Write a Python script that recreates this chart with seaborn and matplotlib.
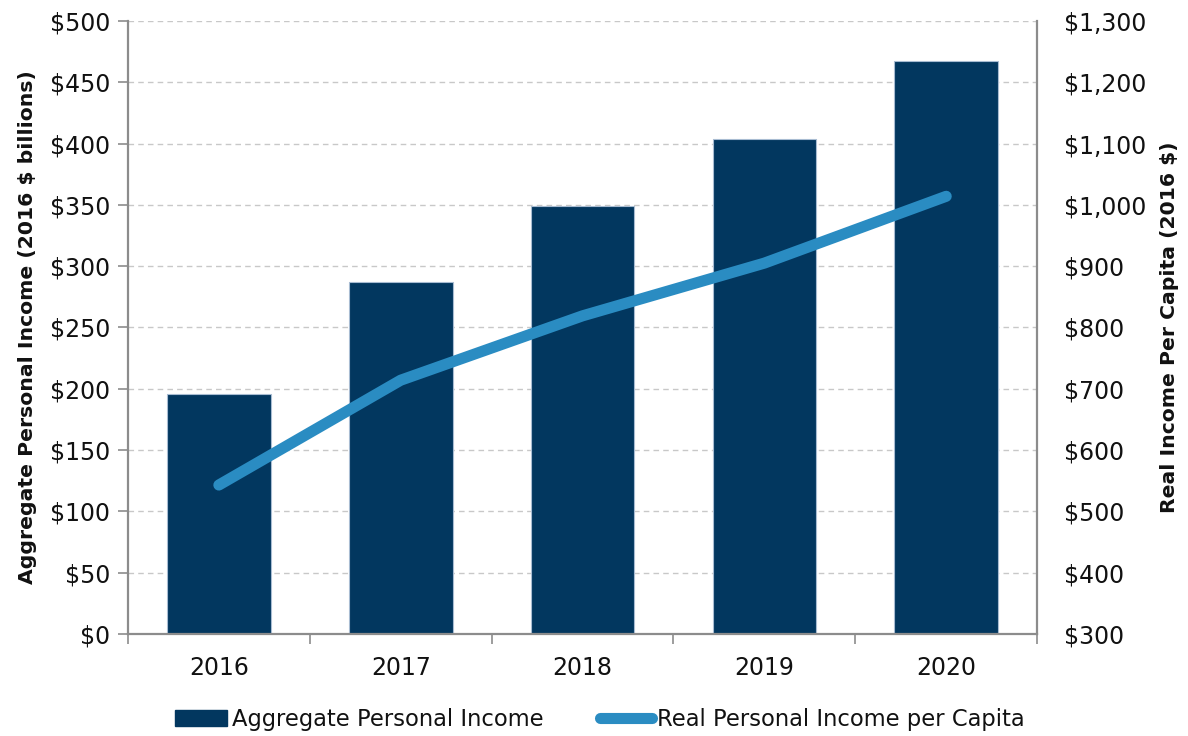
import numpy as np
import pandas as pd
import matplotlib
matplotlib.use("Agg")
import matplotlib.pyplot as plt
import seaborn as sns
from matplotlib.ticker import FuncFormatter, FixedLocator
from matplotlib.lines import Line2D
from matplotlib.patches import Patch

years = ["2016", "2017", "2018", "2019", "2020"]
aggregate_income = [196, 287, 349, 404, 467]          # $ billions (2016 $)
per_capita_income = [543, 714, 819, 905, 1014]        # 2016 $

bar_label = "Aggregate Personal Income"
line_label = "Real Personal Income per Capita"

BAR_COLOR = "#02375F"
LINE_COLOR = "#2A8CC2"
SPINE_COLOR = "#8C8C8C"
GRID_COLOR = "#C8C8C8"
TEXT_COLOR = "#111111"

sns.set_theme(style="white")
plt.rcParams["font.family"] = ["DejaVu Sans"]
plt.rcParams["text.color"] = TEXT_COLOR
plt.rcParams["axes.labelcolor"] = TEXT_COLOR
plt.rcParams["xtick.color"] = TEXT_COLOR
plt.rcParams["ytick.color"] = TEXT_COLOR

fig = plt.figure(figsize=(11.88, 7.36), dpi=100)
ax = fig.add_axes([0.1077, 0.1386, 0.7653, 0.8329])

df = pd.DataFrame({"year": years, "aggregate": aggregate_income})
sns.barplot(data=df, x="year", y="aggregate", color=BAR_COLOR, saturation=1,
            width=0.57, edgecolor="#A8BCD2", linewidth=0.8, ax=ax, zorder=2)

ax.set_ylim(0, 500)
ax.set_xlim(-0.5, len(years) - 0.5)
ax.yaxis.set_major_locator(FixedLocator(np.arange(0, 501, 50)))
ax.yaxis.set_major_formatter(FuncFormatter(lambda v, p: f"${v:,.0f}"))
ax.grid(axis="y", linestyle=(0, (4, 3)), color=GRID_COLOR, linewidth=1.0, zorder=0)
ax.set_axisbelow(True)

ax2 = ax.twinx()
sns.lineplot(x=np.arange(len(years)), y=per_capita_income, ax=ax2,
             color=LINE_COLOR, linewidth=8, solid_capstyle="round",
             solid_joinstyle="round", zorder=3)
ax2.set_ylim(300, 1300)
ax2.yaxis.set_major_locator(FixedLocator(np.arange(300, 1301, 100)))
ax2.yaxis.set_major_formatter(FuncFormatter(lambda v, p: f"${v:,.0f}"))
ax2.set_xlim(-0.5, len(years) - 0.5)
ax2.grid(False)

# spines
for a in (ax, ax2):
    a.spines["top"].set_visible(False)
    for s in ("left", "right", "bottom"):
        a.spines[s].set_color(SPINE_COLOR)
        a.spines[s].set_linewidth(1.6)
ax.spines["right"].set_visible(False)
ax2.spines["left"].set_visible(False)
ax2.spines["bottom"].set_visible(False)

# ticks
ax.tick_params(axis="y", which="major", direction="out", length=7, width=1.2,
               color=SPINE_COLOR, labelcolor=TEXT_COLOR, labelsize=17, pad=6, left=True)
ax.tick_params(axis="x", which="major", length=0, labelsize=17, pad=16,
               labelcolor=TEXT_COLOR)
ax.set_xticks(np.arange(-0.5, len(years), 1.0), minor=True)
ax.tick_params(axis="x", which="minor", direction="out", length=7, width=1.2,
               color=SPINE_COLOR, bottom=True)
ax2.tick_params(axis="y", which="major", length=0, labelsize=17, pad=19, right=True,
                labelcolor=TEXT_COLOR)

ax.set_xlabel("")
ax.set_ylabel("Aggregate Personal Income (2016 $ billions)", fontsize=14.7,
              fontweight="bold", labelpad=9, color=TEXT_COLOR)
ax2.set_ylabel("Real Income Per Capita (2016 $)", fontsize=14.7,
               fontweight="bold", labelpad=10, color=TEXT_COLOR)

handles = [Patch(facecolor=BAR_COLOR, edgecolor=BAR_COLOR, label=bar_label),
           Line2D([0], [0], color=LINE_COLOR, linewidth=8, solid_capstyle="round",
                  label=line_label)]
fig.legend(handles=handles, loc="center", bbox_to_anchor=(0.505, 0.022), ncol=2,
           frameon=False, fontsize=16.3, handlelength=2.3, handletextpad=0.2,
           columnspacing=2.5, labelcolor=TEXT_COLOR)

fig.savefig("out.png", dpi=100)
